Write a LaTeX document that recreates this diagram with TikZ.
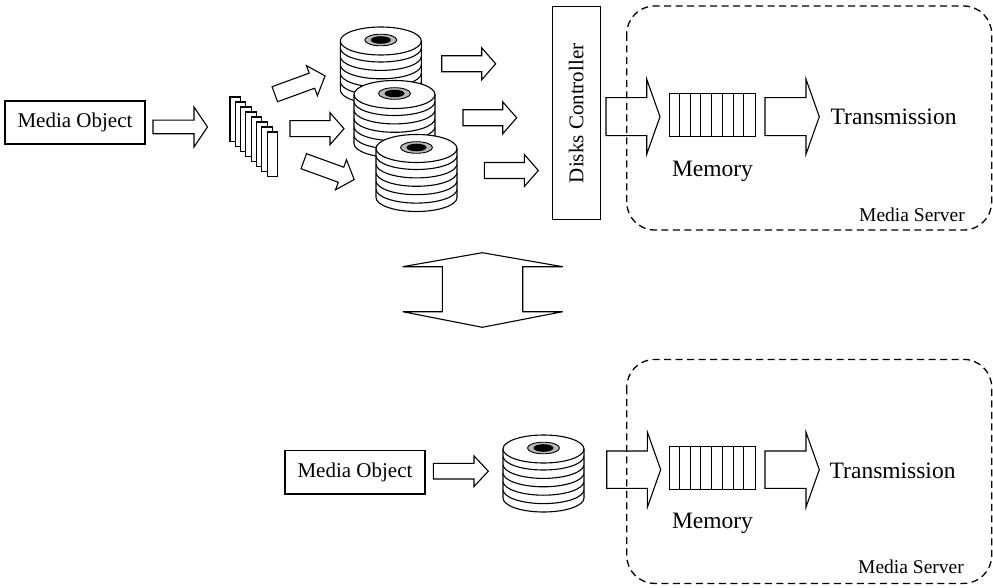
\documentclass[tikz,border=0pt]{standalone}
\usepackage{fontspec}
\setmainfont{Liberation Serif}
\newcommand{\flowarrow}[7]{% #1,#2 tail centre; #3 angle; #4 length; #5 body half-width; #6 head half-width; #7 head length
  \begin{scope}[shift={(#1,#2)}, rotate=#3]
    \draw[outline] (0,-#5) -- ({#4-#7},-#5) -- ({#4-#7},-#6) -- (#4,0)
      -- ({#4-#7},#6) -- ({#4-#7},#5) -- (0,#5) -- cycle;
  \end{scope}}
\newcommand{\diskstack}[2]{% #1 centre x; #2 top y
  \foreach \k in {5,4,...,0} {
    \pgfmathsetmacro\cy{#2+14+8.4*\k}
    \draw[outline] (#1-40.5,\cy) -- (#1-40.5,\cy+7)
      arc[start angle=180, end angle=0, x radius=40.5, y radius=14]
      -- (#1+40.5,\cy)
      arc[start angle=0, end angle=-180, x radius=40.5, y radius=14] -- cycle;
  }
  \draw[line width=1.1pt] (#1-40.5,#2+14)
    arc[start angle=180, end angle=0, x radius=40.5, y radius=14];
  \draw[line width=0.9pt, fill=gray!55] (#1,#2+13) ellipse[x radius=16, y radius=5.8];
  \fill[black] (#1,#2+13) ellipse[x radius=10, y radius=3.8];
}
\begin{document}
\begin{tikzpicture}[x=1pt, y=-1pt]
\tikzset{
  outline/.style={draw=black, line width=1.1pt, fill=white},
  framebox/.style={draw=black, line width=1.3pt, dash pattern=on 7pt off 4.5pt, rounded corners=28pt},
  txtbig/.style={inner sep=0pt, font=\fontsize{23.5}{26}\selectfont},
  txtmid/.style={inner sep=0pt, font=\fontsize{21}{24}\selectfont},
  txtsmall/.style={inner sep=0pt, font=\fontsize{19.5}{22}\selectfont},
  membox/.style={draw=black, line width=1.1pt, fill=white, minimum width=85.7pt, minimum height=43.4pt, inner sep=0pt},
}
\useasboundingbox (0,0) rectangle (993,588);

% ---------- upper system: striped object spread over several disks ----------
\node[draw, line width=1.1pt, minimum width=140pt, minimum height=43pt, inner sep=0pt, txtmid] (obj1) at (75,122.5) {Media Object};
\flowarrow{153}{127}{0}{54.5}{6.8}{20}{13.5}

% strips of the object
\foreach \i in {0,...,7}
  \draw[outline] ({230+5.3*\i},{97+5*\i}) rectangle ++(10.6,44.4);

% arrows to the disks
\flowarrow{274.8}{94.2}{20}{53.5}{8}{16}{14}
\flowarrow{290}{128.7}{0}{54}{8}{16}{14}
\flowarrow{303.8}{161.2}{-20}{53.6}{8}{16}{14}

% disk stacks
\diskstack{380.8}{27}
\diskstack{394.5}{80.5}
\diskstack{416.5}{134.5}

% arrows to the controller
\flowarrow{441.7}{63.8}{0}{54}{8}{16}{14}
\flowarrow{463}{117.8}{0}{53.7}{8}{16}{14}
\flowarrow{484.3}{170.5}{0}{54}{8}{16}{14}

\node[draw, line width=1.1pt, minimum width=47.7pt, minimum height=213.3pt, inner sep=0pt] (ctrl) at (576.2,113.3) {};
\node[txtmid, rotate=90] (ctrltext) at (ctrl.center) {Disks Controller};

% memory and transmission
\flowarrow{606}{116.7}{0}{54}{19}{37.5}{13.3}
\node[membox] (mem1) at (712.2,115) {};
\foreach \i in {1,...,7}
  \draw[line width=1pt] ([xshift=10.71pt*\i]mem1.north west) -- ([xshift=10.71pt*\i]mem1.south west);
\node[txtbig, anchor=base] (memtxt1) at (712.5,177) {Memory};
\flowarrow{765}{116.7}{0}{54.3}{19}{37.5}{13.3}
\node[txtbig, anchor=base west] (tx1) at (830.5,125) {Transmission};
\node[txtsmall, anchor=base east] (srv1) at (965,221.7) {Media Server};
\draw[framebox] (626.7,6) rectangle (991.7,230);

% ---------- double arrow between the two systems ----------
\draw[line width=1.1pt, fill=white] (402.7,266.7) -- (442.3,266.7) -- (442.3,311.7) -- (402.7,311.7)
  -- (482.3,327.3) -- (562.7,311.7) -- (522.7,311.7) -- (522.7,266.7) -- (562.7,266.7)
  -- (482.3,252.7) -- cycle;

% ---------- lower system: object stored on a single disk ----------
\node[draw, line width=1.1pt, minimum width=140pt, minimum height=43.3pt, inner sep=0pt, txtmid] (obj2) at (355,472.3) {Media Object};
\flowarrow{433.3}{471.2}{0}{55}{7.8}{15.3}{14.3}
\diskstack{543.5}{435}

\flowarrow{606.7}{469.7}{0}{54}{18.7}{37.5}{13.3}
\node[membox] (mem2) at (712.2,467.9) {};
\foreach \i in {1,...,7}
  \draw[line width=1pt] ([xshift=10.71pt*\i]mem2.north west) -- ([xshift=10.71pt*\i]mem2.south west);
\node[txtbig, anchor=base] (memtxt2) at (712.5,528.5) {Memory};
\flowarrow{765}{469.7}{0}{54.3}{18.7}{37.5}{13.3}
\node[txtbig, anchor=base west] (tx2) at (829.5,478.3) {Transmission};
\node[txtsmall, anchor=base east] (srv2) at (964,573.5) {Media Server};
\draw[framebox] (626.7,359.4) rectangle (991.7,583.4);
\end{tikzpicture}
\end{document}
